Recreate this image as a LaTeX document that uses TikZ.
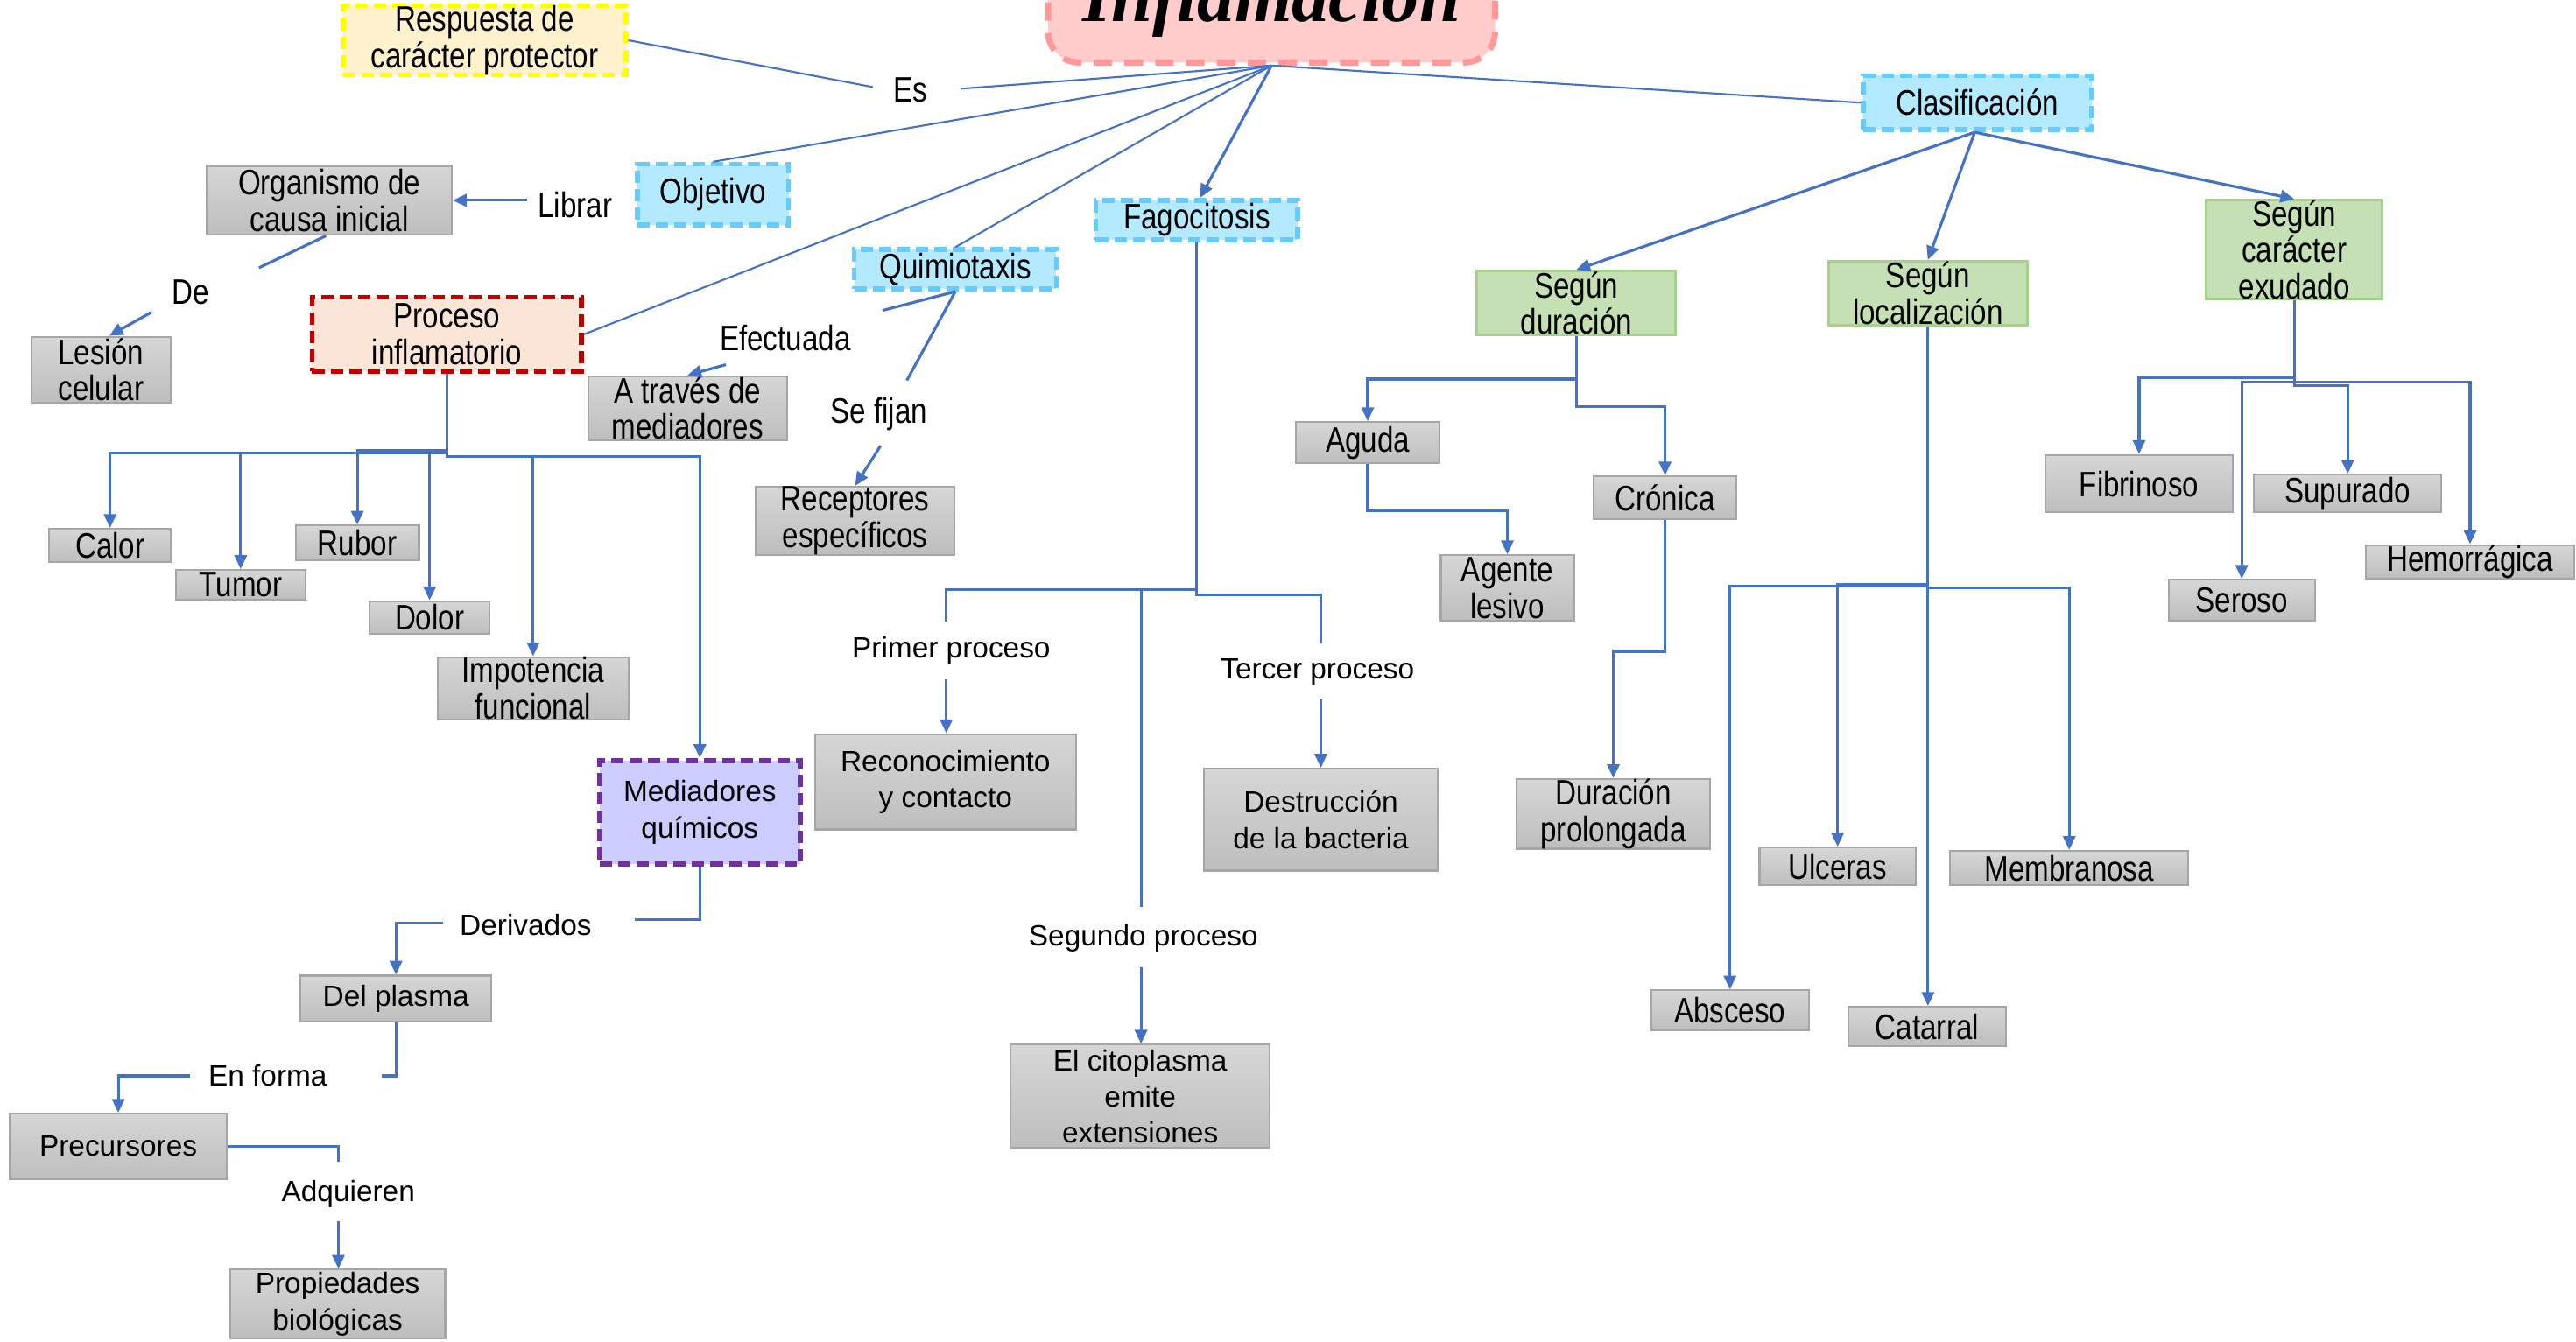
\documentclass[tikz,border=0pt]{standalone}
\usepackage{fontspec}
\setmainfont{Liberation Sans}
\newfontfamily\nar[FakeStretch=0.82]{Liberation Sans}
\newfontfamily\ttlfont{Liberation Serif}
\usetikzlibrary{arrows.meta,calc}
\definecolor{lnblue}{HTML}{4472C4}
\definecolor{gtop}{HTML}{D6D6D6}
\definecolor{gbot}{HTML}{BEBEBE}
\definecolor{gborder}{HTML}{A6A6A6}
\definecolor{lblue}{HTML}{B4EAFF}
\definecolor{dblue}{HTML}{66CCFF}
\definecolor{lgreen}{HTML}{C5E0B4}
\definecolor{dgreen}{HTML}{A9D18E}
\definecolor{lpeach}{HTML}{FBE5D6}
\definecolor{dred}{HTML}{C00000}
\definecolor{lviolet}{HTML}{CCCCFF}
\definecolor{dviolet}{HTML}{7030A0}
\definecolor{lyellow}{HTML}{FFF2CC}
\definecolor{dyellow}{HTML}{FFFF00}
\definecolor{lpink}{HTML}{FFCCCC}
\definecolor{dpink}{HTML}{FF9999}
\tikzset{
  nb/.style={font=\nar\fontsize{11.5}{11.75}\selectfont, align=center, inner sep=0pt},
  ab/.style={font=\fontsize{9.5}{11.75}\selectfont, align=center, inner sep=0pt},
  sz/.style 2 args={minimum width=#1*0.01876cm, minimum height=#2*0.01876cm},
  gbox/.style={draw=gborder, line width=0.6pt, top color=gtop, bottom color=gbot},
  dashbox/.style={line width=1.6pt, dash pattern=on 4pt off 2pt},
  bbox/.style={dashbox, draw=dblue, fill=lblue},
  ybox/.style={dashbox, draw=dyellow, fill=lyellow},
  rbox/.style={dashbox, draw=dred, fill=lpeach},
  pbox/.style={dashbox, draw=dviolet, fill=lviolet},
  grbox/.style={draw=dgreen, line width=0.8pt, fill=lgreen},
  thinln/.style={draw=lnblue, line width=0.6pt},
  con/.style={draw=lnblue, line width=0.9pt},
  arr/.style={con, -{Triangle[length=4.5pt,width=4pt]}},
}
\begin{document}
\begin{tikzpicture}[x=0.01876cm,y=-0.01876cm]
\useasboundingbox (0,0) rectangle (1568,817);
\fill[white] (0,0) rectangle (1568,817);

% title
\node[draw=dpink, fill=lpink, line width=2pt, dash pattern=on 6pt off 4pt, rounded corners=10pt, sz={272}{110}] (title) at (774,-17) {};
\node[font=\ttlfont\bfseries\itshape\fontsize{24}{24}\selectfont, anchor=base] (ttl) at (774,13) {Inflamación};
\coordinate (hub) at (title.south);

% left upper
\node[ybox, sz={172}{39}, nb] (resp) at (295,24.5) {Respuesta de\\carácter protector};
\node[nb] (es) at (554,55) {Es};
\node[bbox, sz={92}{37}, nb] (obj) at (434,118.5) {Objetivo};
\node[nb] (librar) at (350,125) {Librar};
\node[gbox, sz={149}{42}, nb] (org) at (200.5,122) {Organismo de\\causa inicial};
\node[nb] (de) at (116,178) {De};
\node[gbox, sz={85}{40}, nb] (lesion) at (61.5,225) {Lesión\\celular};
\node[rbox, sz={164}{45}, nb] (proc) at (272,203.5) {Proceso\\inflamatorio};
\node[nb] (efect) at (478,206) {Efectuada};
\node[gbox, sz={121}{39}, nb] (atraves) at (418.5,248.5) {A través de\\mediadores};
\node[bbox, sz={123}{24}, nb] (quimio) at (581.5,164) {Quimiotaxis};
\node[nb] (sefijan) at (535,252) {Se fijan};
\node[gbox, sz={121}{40}, nb] (recep) at (520.5,317) {Receptores\\específicos};
\node[bbox, sz={123}{24}, nb] (fago) at (728.5,134) {Fagocitosis};

% right
\node[bbox, sz={139}{33}, nb] (clasif) at (1203.5,62.5) {Clasificación};
\node[grbox, sz={121}{39}, nb] (sdur) at (959.5,184.5) {Según\\duración};
\node[grbox, sz={121}{39}, nb] (sloc) at (1173.5,178.5) {Según\\localización};
\node[grbox, sz={107}{60}, nb] (sexu) at (1396.5,152) {Según\\carácter\\exudado};
\node[gbox, sz={87}{25}, nb] (aguda) at (832.5,269.5) {Aguda};
\node[gbox, sz={87}{26}, nb] (cronica) at (1013.5,303) {Crónica};
\node[gbox, sz={81}{40}, nb] (agente) at (917.5,358) {Agente\\lesivo};
\node[gbox, sz={118}{39}, nb] (durprol) at (982,495.5) {Duración\\prolongada};
\node[gbox, sz={95}{23}, nb] (ulceras) at (1118.5,527.5) {Ulceras};
\node[gbox, sz={145}{21}, nb] (membr) at (1259.5,528.5) {Membranosa};
\node[gbox, sz={96}{24}, nb] (absceso) at (1053,615) {Absceso};
\node[gbox, sz={96}{24}, nb] (catarral) at (1173,625) {Catarral};
\node[gbox, sz={114}{35}, nb] (fibri) at (1302,294.5) {Fibrinoso};
\node[gbox, sz={114}{23}, nb] (supur) at (1429,300.5) {Supurado};
\node[gbox, sz={89}{25}, nb] (seroso) at (1364.5,365.5) {Seroso};
\node[gbox, sz={127}{20}, nb] (hemo) at (1503.5,342) {Hemorrágica};

% proceso children
\node[gbox, sz={74}{20}, nb] (calor) at (67,332) {Calor};
\node[gbox, sz={79}{18}, nb] (tumor) at (146.5,356) {Tumor};
\node[gbox, sz={75}{21}, nb] (rubor) at (217.5,330.5) {Rubor};
\node[gbox, sz={73}{20}, nb] (dolor) at (261.5,376) {Dolor};
\node[gbox, sz={116}{34}, nb] (impot) at (324.5,419) {Impotencia\\funcional};
\node[pbox, sz={122}{63}, ab] (medq) at (426,494.5) {Mediadores\\químicos};
\node[ab] (deriv) at (320,563) {Derivados};
\node[gbox, sz={116}{28}, ab] (delpl) at (241,608) {Del plasma};
\node[ab] (enforma) at (163,655) {En forma};
\node[gbox, sz={132}{40}, ab] (precur) at (72,698) {Precursores};
\node[ab] (adq) at (212,727) {Adquieren};
\node[gbox, sz={131}{42}, ab] (propied) at (205.5,794) {Propiedades\\biológicas};

% fagocitosis children
\node[ab] (primer) at (579,396) {Primer proceso};
\node[ab] (segundo) at (696,571) {Segundo proceso};
\node[ab] (tercer) at (802,409) {Tercer proceso};
\node[gbox, sz={159}{58}, ab] (recon) at (575.5,476) {Reconocimiento\\y contacto};
\node[gbox, sz={142}{62}, ab] (destr) at (804,499) {Destrucción\\de la bacteria};
\node[gbox, sz={158}{63}, ab] (citop) at (694,667.5) {El citoplasma\\emite\\extensiones};

% ---------- connectors from hub
\draw[thinln] (resp.east) -- ($(es.west)+(-12,-2)$);
\draw[thinln] ($(es.east)+(20,-1)$) -- (hub);
\draw[thinln] (hub) -- (obj.north);
\draw[thinln] (hub) -- (proc.east);
\draw[thinln] (hub) -- (quimio.north);
\draw[arr] (hub) -- ($(fago.north)+(2,0)$);
\draw[thinln] (hub) -- (clasif.west);

% objetivo side
\draw[arr] ($(librar.west)+(-6,-3)$) -- (org.east);
\draw[con] ($(org.south)+(-2,0)$) -- ($(de.east)+(30,-15)$);
\draw[arr] ($(de.west)+(-12,12)$) -- ($(lesion.north)+(5,0)$);

% quimiotaxis
\draw[con] (quimio.south) -- ($(efect.east)+(19,-17)$);
\draw[arr] ($(efect.west)+(4,16)$) -- (atraves.north);
\draw[con] (quimio.south) -- ($(sefijan.north)+(17,-10)$);
\draw[arr] ($(sefijan.south)+(1,9)$) -- (recep.north);

% fagocitosis
\coordinate (f1) at (728.5,362);
\coordinate (f2) at (728.5,359);
\coordinate (f3) at (694.5,359);
\draw[con] (fago.south) -- (f1) -| ($(tercer.north)+(2,-9)$);
\draw[con] (f2) -| ($(primer.north)+(-3,-9)$);
\draw[con] (f3) -- ($(segundo.north)+(-1.5,-10)$);
\draw[arr] ($(primer.south)+(-3,9)$) -- ($(recon.north)+(0.5,0)$);
\draw[arr] ($(segundo.south)+(-1.5,9)$) -- ($(citop.north)+(0.5,0)$);
\draw[arr] ($(tercer.south)+(2,8)$) -- (destr.north);

% clasificacion
\coordinate (ck) at ($(clasif.south)+(-1.5,0)$);
\draw[arr] (ck) -- (sdur.north);
\draw[arr] (ck) -- (sloc.north);
\draw[arr] (ck) -- (sexu.north);

% segun duracion
\draw[arr] (sdur.south) -- ++(0,26) -| (aguda.north);
\draw[arr] (sdur.south) -- ++(0,43) -| (cronica.north);
\draw[arr] (aguda.south) -- ++(0,28.5) -| (agente.north);
\draw[arr] (cronica.south) -- ++(0,80) -| (durprol.north);

% segun localizacion
\coordinate (lk) at (1173.5,357);
\draw[con] (sloc.south) -- (lk);
\draw[arr] (lk) -- ($(catarral.north)+(0.5,0)$);
\draw[arr] (lk) -| (absceso.north);
\draw[arr] ($(lk)+(0,-1)$) -| (ulceras.north);
\draw[arr] ($(lk)+(0,1)$) -| (membr.north);

% segun caracter exudado
\draw[arr] (sexu.south) -- ++(0,47) -| (fibri.north);
\draw[arr] (sexu.south) -- ++(0,50) -| (seroso.north);
\draw[arr] (sexu.south) -- ++(0,52) -| (supur.north);
\draw[arr] (sexu.south) -- ++(0,50) -| (hemo.north);

% proceso inflamatorio
\draw[arr] (proc.south) -- ++(0,48.5) -| (calor.north);
\draw[arr] (proc.south) -- ++(0,48.5) -| (tumor.north);
\draw[arr] (proc.south) -- ++(0,46.5) -| (rubor.north);
\draw[arr] (proc.south) -- ++(0,48.5) -| (dolor.north);
\draw[arr] (proc.south) -- ++(0,50.5) -| (impot.north);
\draw[arr] (proc.south) -- ++(0,50.5) -| (medq.north);

% mediadores
\draw[con] (medq.south) |- ($(deriv.east)+(26,-3)$);
\draw[arr] ($(deriv.west)+(-10,-1)$) -| (delpl.north);
\draw[con] (delpl.south) |- ($(enforma.east)+(33,0)$);
\draw[arr] ($(enforma.west)+(-11,0)$) -| (precur.north);
\draw[con] (precur.east) -| ($(adq.north)+(-6,-11)$);
\draw[arr] ($(adq.south)+(-6,8)$) -- ($(propied.north)+(0.5,0)$);
\end{tikzpicture}
\end{document}
